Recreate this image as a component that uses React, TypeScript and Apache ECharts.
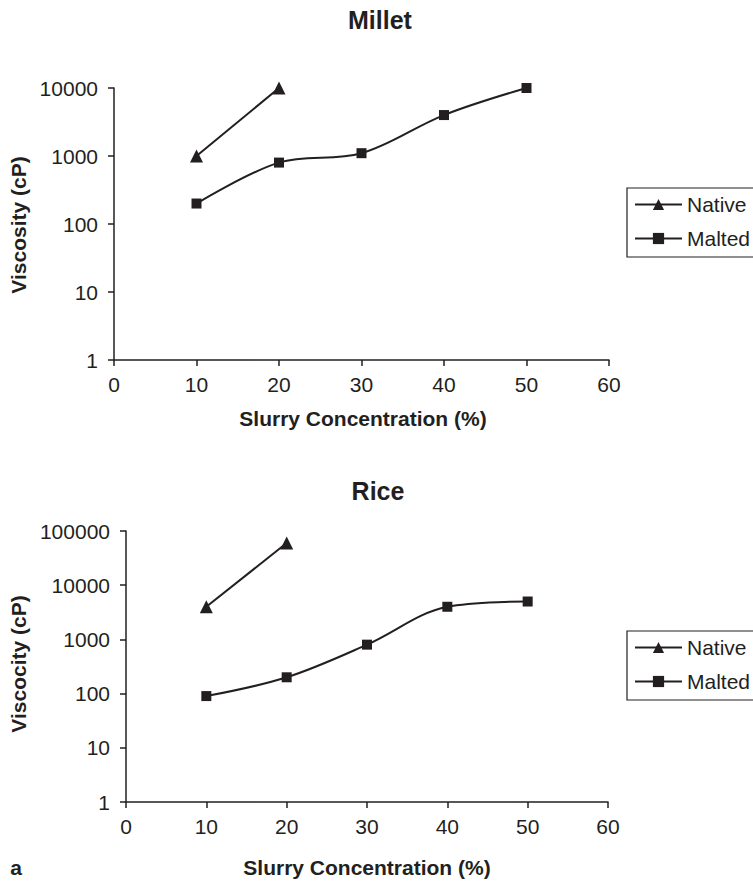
import React, { useEffect, useRef } from "react";
import * as echarts from "echarts";

const xTicks = [0, 10, 20, 30, 40, 50, 60];
const milletNative: [number, number][] = [[10, 1000], [20, 10000]];
const milletMalted: [number, number][] = [[10, 200], [20, 800], [30, 1100], [40, 4000], [50, 10000]];
const riceNative: [number, number][] = [[10, 4000], [20, 60000]];
const riceMalted: [number, number][] = [[10, 90], [20, 200], [30, 800], [40, 4000], [50, 5000]];
const titles = ["Millet", "Rice"];
const yNames = ["Viscosity (cP)", "Viscocity (cP)"];
const xName = "Slurry Concentration (%)";
const seriesNames = ["Native", "Malted"];

const INK = "#231f20";
const FONT = "'Liberation Sans', Arial, Helvetica, sans-serif";

export default function App() {
  const ref = useRef<HTMLDivElement>(null);
  useEffect(() => {
    document.body.style.margin = "0";
    const chart = echarts.init(ref.current!, undefined, { renderer: "svg" });
    const xAxisBase = (gridIndex: number) => ({
      type: "value",
      gridIndex,
      min: xTicks[0],
      max: xTicks[xTicks.length - 1],
      interval: 10,
      axisLine: { show: true, lineStyle: { color: INK, width: 1.5 } },
      axisTick: { show: true, length: 6, lineStyle: { color: INK, width: 1.5 } },
      axisLabel: { color: INK, fontSize: 21, fontFamily: FONT, margin: 14 },
      splitLine: { show: false },
    });
    const yAxisBase = (gridIndex: number, max: number) => ({
      type: "log",
      logBase: 10,
      gridIndex,
      min: 1,
      max,
      axisLine: { show: true, lineStyle: { color: INK, width: 1.5 } },
      axisTick: { show: true, length: 6, lineStyle: { color: INK, width: 1.5 } },
      axisLabel: {
        color: INK,
        fontSize: 21,
        fontFamily: FONT,
        margin: 16,
        formatter: (v: number) => String(Math.round(v)),
      },
      splitLine: { show: false },
      minorTick: { show: false },
    });
    const line = (name: string, data: [number, number][], idx: number, symbol: string, size: number) => ({
      type: "line",
      name,
      data,
      xAxisIndex: idx,
      yAxisIndex: idx,
      smooth: 0.35,
      symbol,
      symbolSize: size,
      showAllSymbol: true,
      lineStyle: { color: INK, width: 2 },
      itemStyle: { color: INK, borderWidth: 0 },
    });
    const legend = (top: number) => ({
      orient: "vertical",
      left: 627,
      top,
      data: seriesNames,
      itemWidth: 47,
      itemHeight: 14,
      itemGap: 13,
      padding: [6, 20, 8, 7],
      borderColor: INK,
      borderWidth: 1.2,
      textStyle: { color: INK, fontSize: 21, fontFamily: FONT },
      selectedMode: false,
    });
    const text = (str: string, x: number, y: number, size: number, bold: boolean, rotation = 0) => ({
      type: "text",
      x,
      y,
      rotation,
      style: {
        text: str,
        fill: INK,
        font: `${bold ? "bold " : ""}${size}px ${FONT}`,
        textAlign: "center",
        textVerticalAlign: "middle",
      },
    });
    chart.setOption({
      animation: false,
      grid: [
        { left: 114, right: 144, top: 88, height: 272 },
        { left: 126, right: 145, top: 531, height: 271 },
      ],
      xAxis: [xAxisBase(0), xAxisBase(1)],
      yAxis: [yAxisBase(0, 10000), yAxisBase(1, 100000)],
      legend: [legend(188), legend(631)],
      series: [
        line(seriesNames[0], milletNative, 0, "triangle", 13),
        line(seriesNames[1], milletMalted, 0, "rect", 10),
        line(seriesNames[0], riceNative, 1, "triangle", 13),
        line(seriesNames[1], riceMalted, 1, "rect", 10),
      ],
      graphic: [
        text(titles[0], 380, 20, 25, true),
        text(titles[1], 378, 491, 25, true),
        text(xName, 363, 418, 21, true),
        text(xName, 367, 867, 21, true),
        text(yNames[0], 18, 225, 21, true, Math.PI / 2),
        text(yNames[1], 18, 664, 21, true, Math.PI / 2),
        text("a", 16, 867, 21, true),
      ],
    });
    return () => chart.dispose();
  }, []);
  return (
    <div
      ref={ref}
      style={{ position: "fixed", left: 0, top: 0, width: 753, height: 883, background: "#fff" }}
    />
  );
}
